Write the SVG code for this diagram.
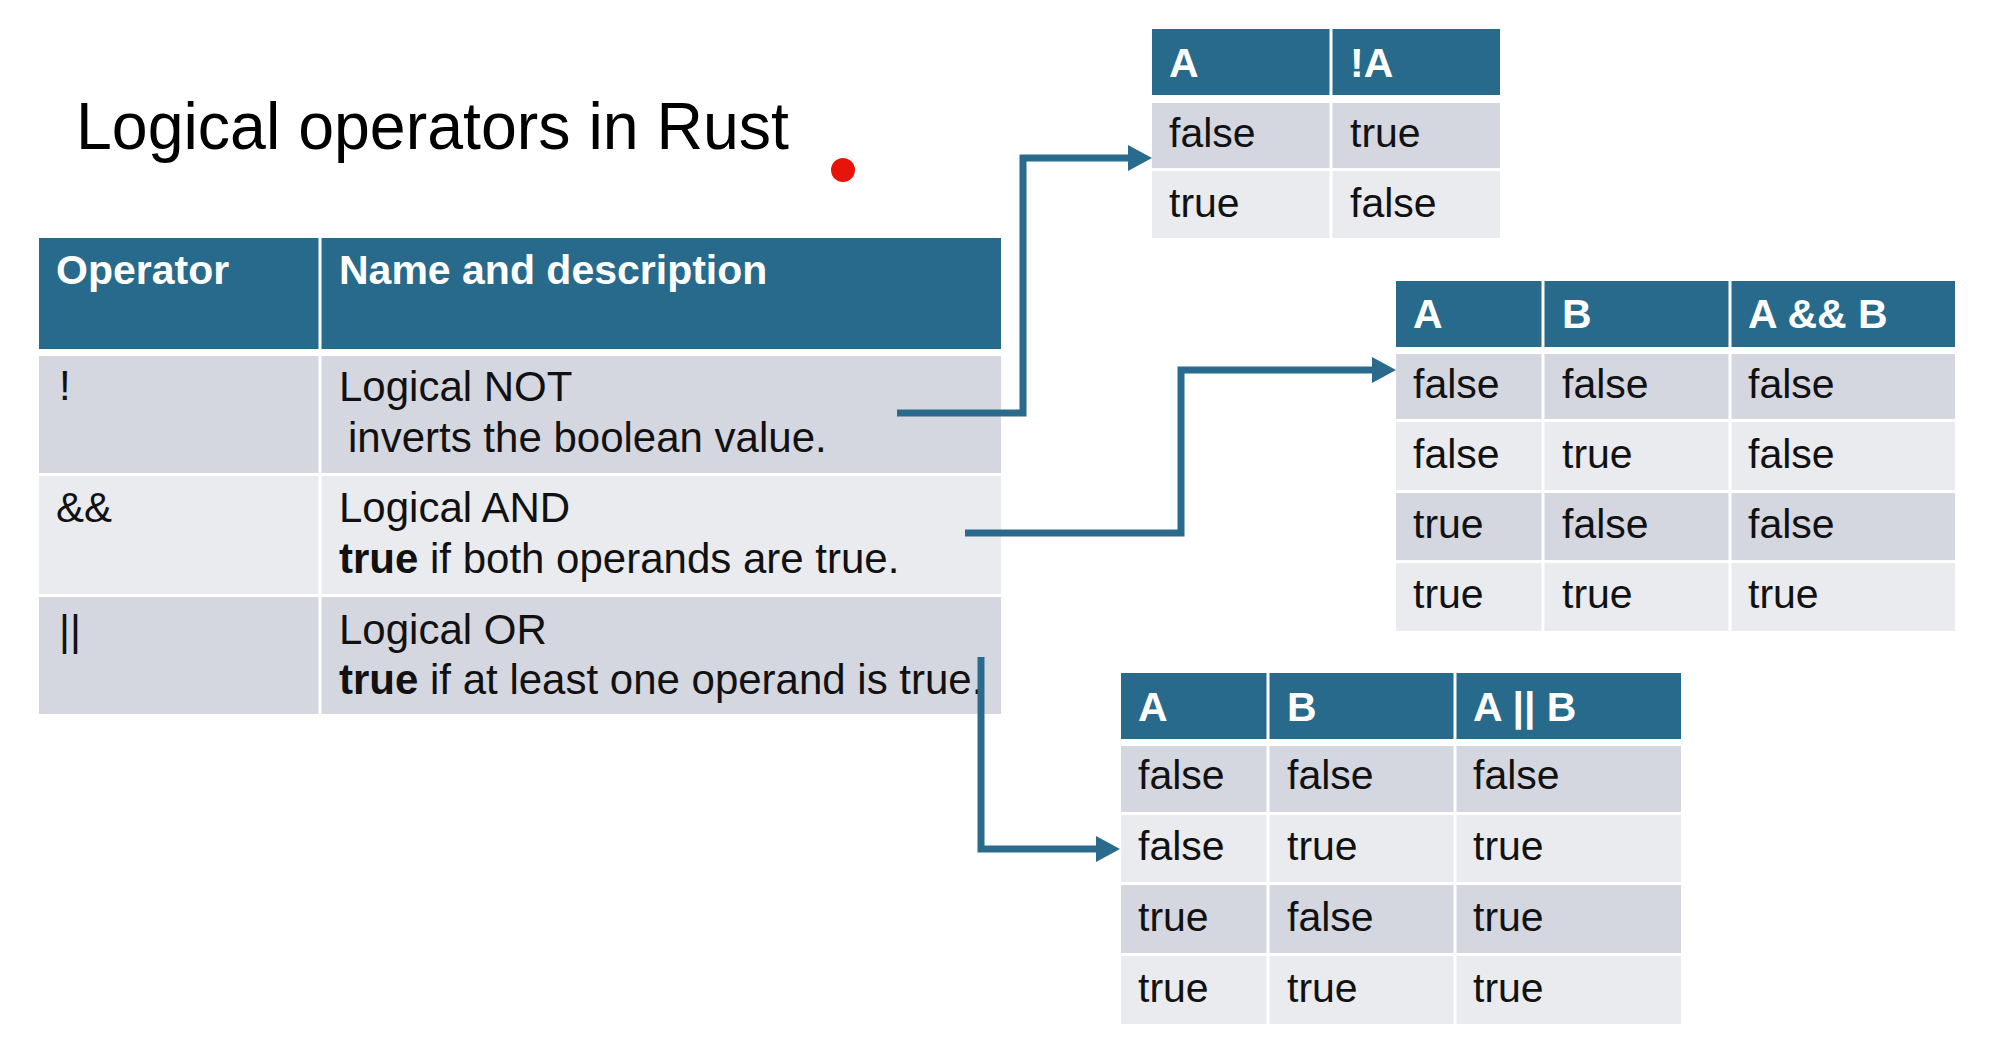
<svg xmlns="http://www.w3.org/2000/svg" width="2007" height="1061" viewBox="0 0 2007 1061">
<defs>
<style>
.hdr{fill:#276A8C}
.dark{fill:#D4D6E0}
.light{fill:#E9EBEF}
.div{stroke:#FFFFFF;stroke-width:3}
.th{font-family:"Liberation Sans",Arial,sans-serif;font-weight:bold;font-size:41px;fill:#FFFFFF}
.td{font-family:"Liberation Sans",Arial,sans-serif;font-size:41px;fill:#111111}
.body{font-size:42px}
.b{font-weight:bold}
.conn{fill:none;stroke:#2A6B8D;stroke-width:7}
</style>
<marker id="arrow" viewBox="0 0 24 26" refX="10" refY="13" markerWidth="24" markerHeight="26" markerUnits="userSpaceOnUse" orient="auto">
<path d="M0,0 L24,13 L0,26 z" fill="#2A6B8D"/>
</marker>
</defs>
<rect x="0" y="0" width="2007" height="1061" fill="#FFFFFF"/>

<g id="title">
<text x="76" y="149" font-family="'Liberation Sans',Arial,sans-serif" font-size="67" fill="#000000" textLength="713" lengthAdjust="spacingAndGlyphs">Logical operators in Rust</text>
</g>

<circle id="pointer-dot" cx="843" cy="170" r="12" fill="#E8140C"/>

<g id="table-operators">
<rect class="hdr" x="39" y="238" width="962" height="111"/>
<rect class="dark" x="39" y="356" width="962" height="117"/>
<rect class="light" x="39" y="476" width="962" height="118"/>
<rect class="dark" x="39" y="597" width="962" height="117"/>
<line class="div" x1="320" y1="238" x2="320" y2="714"/>
<text class="th" x="56" y="284">Operator</text>
<text class="th" x="339" y="284">Name and description</text>
<text class="td body" x="59" y="400">!</text>
<text class="td body" x="339" y="401">Logical NOT</text>
<text class="td body" x="348" y="452">inverts the boolean value.</text>
<text class="td body" x="56" y="522">&amp;&amp;</text>
<text class="td body" x="339" y="522">Logical AND</text>
<text class="td body" x="339" y="573"><tspan class="b">true</tspan> if both operands are true.</text>
<text class="td body" x="59" y="645">||</text>
<text class="td body" x="339" y="644">Logical OR</text>
<text class="td body" x="339" y="694"><tspan class="b">true</tspan> if at least one operand is true.</text>
</g>

<g id="table-not">
<rect class="hdr" x="1152" y="29" width="348" height="66"/>
<rect class="dark" x="1152" y="103" width="348" height="65"/>
<rect class="light" x="1152" y="171" width="348" height="67"/>
<line class="div" x1="1331" y1="29" x2="1331" y2="238"/>
<text class="th" x="1169" y="77">A</text>
<text class="th" x="1350" y="77">!A</text>
<text class="td" x="1169" y="147">false</text>
<text class="td" x="1350" y="147">true</text>
<text class="td" x="1169" y="217">true</text>
<text class="td" x="1350" y="217">false</text>
</g>

<g id="table-and">
<rect class="hdr" x="1396" y="281" width="559" height="66"/>
<rect class="dark" x="1396" y="354" width="559" height="65"/>
<rect class="light" x="1396" y="422" width="559" height="68"/>
<rect class="dark" x="1396" y="493" width="559" height="67"/>
<rect class="light" x="1396" y="563" width="559" height="68"/>
<line class="div" x1="1543" y1="281" x2="1543" y2="631"/>
<line class="div" x1="1730" y1="281" x2="1730" y2="631"/>
<text class="th" x="1413" y="328">A</text>
<text class="th" x="1562" y="328">B</text>
<text class="th" x="1748" y="328">A &amp;&amp; B</text>
<text class="td" x="1413" y="398">false</text>
<text class="td" x="1562" y="398">false</text>
<text class="td" x="1748" y="398">false</text>
<text class="td" x="1413" y="468">false</text>
<text class="td" x="1562" y="468">true</text>
<text class="td" x="1748" y="468">false</text>
<text class="td" x="1413" y="538">true</text>
<text class="td" x="1562" y="538">false</text>
<text class="td" x="1748" y="538">false</text>
<text class="td" x="1413" y="608">true</text>
<text class="td" x="1562" y="608">true</text>
<text class="td" x="1748" y="608">true</text>
</g>

<g id="table-or">
<rect class="hdr" x="1121" y="673" width="560" height="66"/>
<rect class="dark" x="1121" y="746" width="560" height="66"/>
<rect class="light" x="1121" y="815" width="560" height="67"/>
<rect class="dark" x="1121" y="885" width="560" height="68"/>
<rect class="light" x="1121" y="956" width="560" height="68"/>
<line class="div" x1="1268" y1="673" x2="1268" y2="1024"/>
<line class="div" x1="1455" y1="673" x2="1455" y2="1024"/>
<text class="th" x="1138" y="721">A</text>
<text class="th" x="1287" y="721">B</text>
<text class="th" x="1473" y="721">A || B</text>
<text class="td" x="1138" y="789">false</text>
<text class="td" x="1287" y="789">false</text>
<text class="td" x="1473" y="789">false</text>
<text class="td" x="1138" y="860">false</text>
<text class="td" x="1287" y="860">true</text>
<text class="td" x="1473" y="860">true</text>
<text class="td" x="1138" y="931">true</text>
<text class="td" x="1287" y="931">false</text>
<text class="td" x="1473" y="931">true</text>
<text class="td" x="1138" y="1002">true</text>
<text class="td" x="1287" y="1002">true</text>
<text class="td" x="1473" y="1002">true</text>
</g>

<g id="connectors">
<path class="conn" d="M897 413 H1023 V158 H1138" marker-end="url(#arrow)"/>
<path class="conn" d="M965 533 H1181 V370 H1382" marker-end="url(#arrow)"/>
<path class="conn" d="M981 657 V849 H1106" marker-end="url(#arrow)"/>
</g>
</svg>
